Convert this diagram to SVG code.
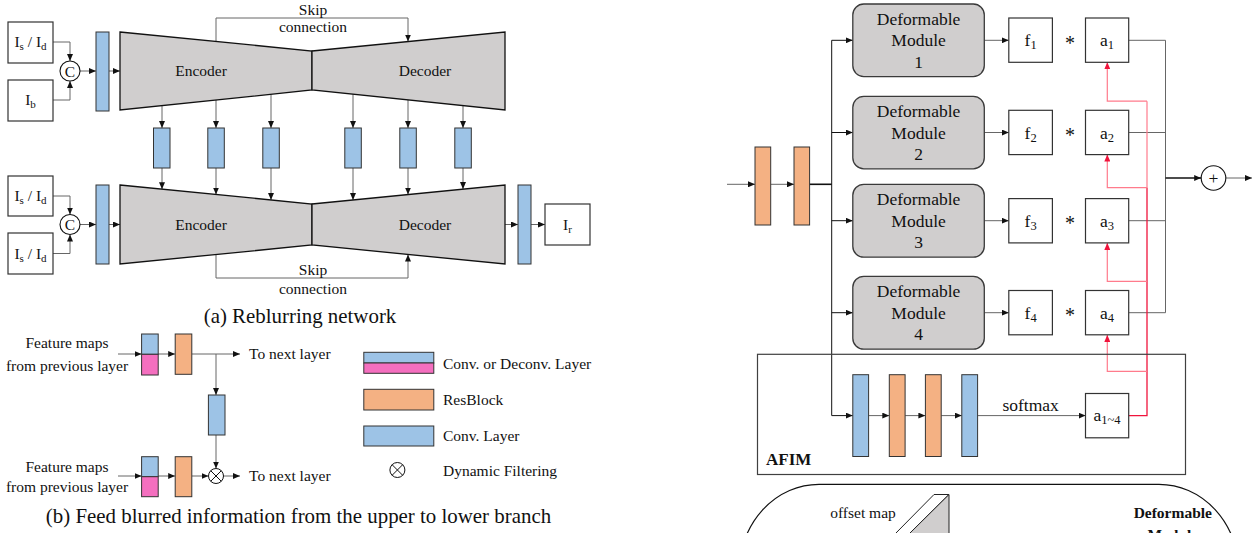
<svg xmlns="http://www.w3.org/2000/svg" width="1254" height="533" viewBox="0 0 1254 533">
<style>
text{font-family:"Liberation Serif","Times New Roman",serif;fill:#111}
.t{font-size:15.5px}
.tm{font-size:15.5px;text-anchor:middle}
.r{font-size:17.5px;text-anchor:middle}
.star{font-size:20px;text-anchor:middle}
.cap{font-size:20.9px;text-anchor:middle}
.sub{font-size:11px}
.subr{font-size:12.5px}
.box{fill:#fff;stroke:#333;stroke-width:1.2}
.blue{fill:#9dc3e6;stroke:#333;stroke-width:1}
.orange{fill:#f4b183;stroke:#333;stroke-width:1}
.pink{fill:#f46fbf;stroke:#333;stroke-width:1}
.trap{fill:#d0cece;stroke:#111;stroke-width:1.3}
.mod{fill:#d0cece;stroke:#3a3a3a;stroke-width:1.3}
.ln{fill:none;stroke:#666;stroke-width:1}
.lnk{fill:none;stroke:#111;stroke-width:1}
.thk{fill:none;stroke:#111;stroke-width:1.6}
.red{fill:none;stroke:#f0143c;stroke-width:1.3}
.lred{fill:none;stroke:#ff7b8c;stroke-width:1.2}
.arr{marker-end:url(#ah)}
.arrr{marker-end:url(#ahr)}
</style>
<defs>
<marker id="ah" markerUnits="userSpaceOnUse" markerWidth="7" markerHeight="6" refX="7" refY="3" orient="auto"><path d="M0,0 L7,3 L0,6 z" fill="#111"/></marker>
<marker id="ahr" markerUnits="userSpaceOnUse" markerWidth="7" markerHeight="6" refX="7" refY="3" orient="auto"><path d="M0,0 L7,3 L0,6 z" fill="#f0143c"/></marker>
</defs>
<rect width="1254" height="533" fill="#fff"/>

<!-- connectors -->
<g id="connectors">
  <path class="ln arr" d="M53,42 H70 V61"/>
  <path class="ln arr" d="M53,100 H70 V81"/>
  <path class="ln arr" d="M80,71 H96"/>
  <path class="ln arr" d="M109,71 H120"/>
  <path class="ln arr" d="M216,41.5 V18 H408 V41.5"/>
  <path class="ln arr" d="M162,105.6 V128"/>
  <path class="ln arr" d="M216,100 V128"/>
  <path class="ln arr" d="M271,94.3 V128"/>
  <path class="ln arr" d="M353,94.3 V128"/>
  <path class="ln arr" d="M408,100 V128"/>
  <path class="ln arr" d="M463,105.6 V128"/>
  <path class="ln arr" d="M162,168 V189.2"/>
  <path class="ln arr" d="M216,168 V194.5"/>
  <path class="ln arr" d="M271,168 V199.9"/>
  <path class="ln arr" d="M353,168 V200"/>
  <path class="ln arr" d="M408,168 V194.5"/>
  <path class="ln arr" d="M463,168 V189.1"/>
  <path class="ln arr" d="M53,196 H70 V214.5"/>
  <path class="ln arr" d="M53,253.5 H70 V234.5"/>
  <path class="ln arr" d="M80,224.5 H96"/>
  <path class="ln arr" d="M109,224.5 H120"/>
  <path class="ln arr" d="M216,254.5 V278 H408 V254.5"/>
  <path class="ln arr" d="M505,224.5 H518"/>
  <path class="ln arr" d="M531,224.5 H545"/>
  <path class="ln arr" d="M118,354 H141.6"/>
  <path class="ln arr" d="M158.2,354 H175.2"/>
  <path class="ln arr" d="M191.8,354 H240"/>
  <path class="ln arr" d="M216,354 V395"/>
  <path class="ln arr" d="M216,435 V468.5"/>
  <path class="ln arr" d="M118,476 H141.6"/>
  <path class="ln arr" d="M158.2,476 H175.2"/>
  <path class="ln arr" d="M191.8,476 H208.5"/>
  <path class="ln arr" d="M223.5,476 H240"/>
  <path class="ln arr" d="M727,184.3 H755"/>
  <path class="ln arr" d="M770.7,184.3 H794"/>
  <path class="thk" d="M809.6,184.3 H831.7"/>
  <path class="lnk" d="M831.7,40.3 V415.6"/>
  <path class="lnk arr" d="M831.7,40.3 H852.8"/>
  <path class="lnk arr" d="M831.7,132.5 H852.8"/>
  <path class="lnk arr" d="M831.7,220.7 H852.8"/>
  <path class="lnk arr" d="M831.7,312.7 H852.8"/>
  <path class="lnk arr" d="M831.7,415.6 H852.8"/>
  <path class="ln arr" d="M984.3,40.3 H1008.8"/>
  <path class="ln arr" d="M984.3,132.5 H1008.8"/>
  <path class="ln arr" d="M984.3,220.7 H1008.8"/>
  <path class="ln arr" d="M984.3,312.7 H1008.8"/>
  <path class="ln" d="M1128.7,40.3 H1165.5 V312.7 H1128.7"/>
  <path class="ln" d="M1128.7,132.5 H1165.5"/>
  <path class="ln" d="M1128.7,220.7 H1165.5"/>
  <path class="thk arr" d="M1165.5,178 H1201.2"/>
  <path class="ln arr" d="M1225.8,178 H1252"/>
  <path class="ln arr" d="M868.6,415.6 H889.3"/>
  <path class="ln arr" d="M905.1,415.6 H925.4"/>
  <path class="ln arr" d="M941.2,415.6 H961.8"/>
  <path class="ln arr" d="M977.6,415.6 H1085.5"/>
  <path class="red" d="M1128.7,415.6 H1147 V187.7"/>
  <path class="lred" d="M1147,188 V101.2"/>
  <path class="lred arrr" d="M1147,101.2 H1107.3 V62.3"/>
  <path class="lred arrr" d="M1147,187.7 H1107.3 V154.5"/>
  <path class="lred arrr" d="M1147,281.4 H1107.3 V242.9"/>
  <path class="lred arrr" d="M1147,371.3 H1107.3 V334.9"/>
</g>

<!-- panel (a) nodes -->
<g id="in-top-1"><rect class="box" x="8" y="22" width="45" height="41"/><text class="tm" x="30.5" y="47">I<tspan class="sub" dy="3">s</tspan><tspan dy="-3"> / I</tspan><tspan class="sub" dy="3">d</tspan></text></g>
<g id="in-top-2"><rect class="box" x="8" y="80" width="45" height="41"/><text class="tm" x="30.5" y="105">I<tspan class="sub" dy="3">b</tspan></text></g>
<g id="concat-top"><circle cx="70" cy="71" r="10" fill="#fff" stroke="#111" stroke-width="1.1"/><text class="tm" x="70" y="76.5">C</text></g>
<g id="conv-top"><rect class="blue" x="96" y="32" width="13" height="79"/></g>
<g id="encoder-top"><polygon class="trap" points="120,32 312,51 312,90 120,110"/><text class="tm" x="201" y="76">Encoder</text></g>
<g id="decoder-top"><polygon class="trap" points="312,51 505,32 505,110 312,90"/><text class="tm" x="425" y="76">Decoder</text></g>
<g id="skip-top-label"><text class="tm" x="313" y="14.5">Skip</text><text class="tm" x="313" y="32">connection</text></g>
<g id="mid-bars">
  <rect class="blue" x="153.5" y="128" width="16.5" height="40"/>
  <rect class="blue" x="207.8" y="128" width="16.5" height="40"/>
  <rect class="blue" x="262.8" y="128" width="16.5" height="40"/>
  <rect class="blue" x="344.8" y="128" width="16.5" height="40"/>
  <rect class="blue" x="399.8" y="128" width="16.5" height="40"/>
  <rect class="blue" x="454.8" y="128" width="16.5" height="40"/>
</g>
<g id="in-bot-1"><rect class="box" x="8" y="176" width="45" height="40"/><text class="tm" x="30.5" y="201">I<tspan class="sub" dy="3">s</tspan><tspan dy="-3"> / I</tspan><tspan class="sub" dy="3">d</tspan></text></g>
<g id="in-bot-2"><rect class="box" x="8" y="233" width="45" height="41"/><text class="tm" x="30.5" y="258.5">I<tspan class="sub" dy="3">s</tspan><tspan dy="-3"> / I</tspan><tspan class="sub" dy="3">d</tspan></text></g>
<g id="concat-bot"><circle cx="70" cy="224.5" r="10" fill="#fff" stroke="#111" stroke-width="1.1"/><text class="tm" x="70" y="230">C</text></g>
<g id="conv-bot"><rect class="blue" x="96" y="185" width="13" height="79"/></g>
<g id="encoder-bot"><polygon class="trap" points="120,185 312,204 312,245 120,264"/><text class="tm" x="201" y="229.5">Encoder</text></g>
<g id="decoder-bot"><polygon class="trap" points="312,204 505,185 505,264 312,245"/><text class="tm" x="425" y="229.5">Decoder</text></g>
<g id="skip-bot-label"><text class="tm" x="313" y="275">Skip</text><text class="tm" x="313" y="294">connection</text></g>
<g id="conv-out"><rect class="blue" x="518" y="185" width="13" height="79"/></g>
<g id="out-ir"><rect class="box" x="545" y="204" width="45" height="41"/><text class="tm" x="567.5" y="229.5">I<tspan class="sub" dy="3">r</tspan></text></g>
<g id="caption-a"><text class="cap" x="300" y="323">(a) Reblurring network</text></g>

<!-- panel (b) nodes -->
<g id="b-in-top"><text class="tm" x="67" y="348">Feature maps</text><text class="tm" x="67" y="371">from previous layer</text></g>
<g id="b-conv-top"><rect class="blue" x="141.6" y="334" width="16.6" height="20.3"/><rect class="pink" x="141.6" y="354.3" width="16.6" height="20.7"/></g>
<g id="b-res-top"><rect class="orange" x="175.2" y="334" width="16.6" height="40.3"/></g>
<g id="b-out-top"><text class="t" x="249" y="359">To next layer</text></g>
<g id="b-conv-mid"><rect class="blue" x="208.4" y="395" width="16.6" height="40"/></g>
<g id="b-in-bot"><text class="tm" x="67" y="472">Feature maps</text><text class="tm" x="67" y="492">from previous layer</text></g>
<g id="b-conv-bot"><rect class="blue" x="141.6" y="456.7" width="16.6" height="20"/><rect class="pink" x="141.6" y="476.7" width="16.6" height="20"/></g>
<g id="b-res-bot"><rect class="orange" x="175.2" y="456.7" width="16.6" height="40"/></g>
<g id="b-filter"><circle cx="216" cy="476" r="7.5" fill="#fff" stroke="#111" stroke-width="1"/><path d="M210.7,470.7 L221.3,481.3 M221.3,470.7 L210.7,481.3" stroke="#111" stroke-width="1"/></g>
<g id="b-out-bot"><text class="t" x="249" y="481">To next layer</text></g>
<g id="legend">
  <rect class="blue" x="363.8" y="352.3" width="70" height="10.7"/><rect class="pink" x="363.8" y="363" width="70" height="10.3"/>
  <text class="t" x="443" y="368.5">Conv. or Deconv. Layer</text>
  <rect class="orange" x="363.8" y="389.3" width="70" height="20.7"/>
  <text class="t" x="443" y="404.5">ResBlock</text>
  <rect class="blue" x="363.8" y="426" width="70" height="20"/>
  <text class="t" x="443" y="441">Conv. Layer</text>
  <circle cx="397.4" cy="470" r="7.5" fill="#fff" stroke="#111" stroke-width="1"/><path d="M392.1,464.7 L402.7,475.3 M402.7,464.7 L392.1,475.3" stroke="#111" stroke-width="1"/>
  <text class="t" x="443" y="476">Dynamic Filtering</text>
</g>
<g id="caption-b"><text class="cap" x="298.5" y="523">(b) Feed blurred information from the upper to lower branch</text></g>

<!-- right panel nodes -->
<g id="res-in-1"><rect class="orange" x="755" y="147" width="15.7" height="78"/></g>
<g id="res-in-2"><rect class="orange" x="794" y="147" width="15.6" height="78"/></g>
<g id="dm1"><rect class="mod" x="852.8" y="4" width="131.5" height="72.6" rx="11"/><text class="r" x="918.6" y="24.7">Deformable</text><text class="r" x="918.6" y="46.3">Module</text><text class="r" x="918.6" y="68">1</text></g>
<g id="dm2"><rect class="mod" x="852.8" y="96.4" width="131.5" height="72.4" rx="11"/><text class="r" x="918.6" y="116.9">Deformable</text><text class="r" x="918.6" y="138.5">Module</text><text class="r" x="918.6" y="160.2">2</text></g>
<g id="dm3"><rect class="mod" x="852.8" y="184.3" width="131.5" height="72.9" rx="11"/><text class="r" x="918.6" y="205.1">Deformable</text><text class="r" x="918.6" y="226.7">Module</text><text class="r" x="918.6" y="248.4">3</text></g>
<g id="dm4"><rect class="mod" x="852.8" y="276.3" width="131.5" height="72.9" rx="11"/><text class="r" x="918.6" y="297.1">Deformable</text><text class="r" x="918.6" y="318.7">Module</text><text class="r" x="918.6" y="340.4">4</text></g>
<g id="f1"><rect class="box" x="1008.8" y="18" width="43.6" height="44.3"/><text class="r" x="1030.6" y="46.3">f<tspan class="subr" dy="3">1</tspan></text></g>
<g id="f2"><rect class="box" x="1008.8" y="110.3" width="43.6" height="44.3"/><text class="r" x="1030.6" y="138.5">f<tspan class="subr" dy="3">2</tspan></text></g>
<g id="f3"><rect class="box" x="1008.8" y="198.6" width="43.6" height="44.3"/><text class="r" x="1030.6" y="226.7">f<tspan class="subr" dy="3">3</tspan></text></g>
<g id="f4"><rect class="box" x="1008.8" y="290.5" width="43.6" height="44.3"/><text class="r" x="1030.6" y="318.7">f<tspan class="subr" dy="3">4</tspan></text></g>
<g id="stars"><text class="star" x="1070" y="50">*</text><text class="star" x="1070" y="142.2">*</text><text class="star" x="1070" y="230.4">*</text><text class="star" x="1070" y="322.4">*</text></g>
<g id="a1"><rect class="box" x="1085.5" y="18" width="43.2" height="44.3"/><text class="r" x="1107.1" y="46.3">a<tspan class="subr" dy="3">1</tspan></text></g>
<g id="a2"><rect class="box" x="1085.5" y="110.3" width="43.2" height="44.3"/><text class="r" x="1107.1" y="138.5">a<tspan class="subr" dy="3">2</tspan></text></g>
<g id="a3"><rect class="box" x="1085.5" y="198.6" width="43.2" height="44.3"/><text class="r" x="1107.1" y="226.7">a<tspan class="subr" dy="3">3</tspan></text></g>
<g id="a4"><rect class="box" x="1085.5" y="290.5" width="43.2" height="44.3"/><text class="r" x="1107.1" y="318.7">a<tspan class="subr" dy="3">4</tspan></text></g>
<g id="sum"><circle cx="1213.5" cy="178" r="12.3" fill="#fff" stroke="#111" stroke-width="1.1"/><text class="r" x="1213.5" y="184">+</text></g>
<g id="afim">
  <rect x="757.5" y="354.3" width="428" height="120.2" fill="none" stroke="#404040" stroke-width="1.2"/>
  <text x="766" y="465.3" style="font-size:17px;font-weight:bold">AFIM</text>
  <rect class="blue" x="852.8" y="374.7" width="15.8" height="81.8"/>
  <rect class="orange" x="889.3" y="374.7" width="15.8" height="81.8"/>
  <rect class="orange" x="925.4" y="374.7" width="15.8" height="81.8"/>
  <rect class="blue" x="961.8" y="374.7" width="15.8" height="81.8"/>
  <text class="r" x="1030.6" y="410.8">softmax</text>
</g>
<g id="a14"><rect class="box" x="1085.5" y="393.5" width="43.2" height="44.3"/><text class="r" x="1107.1" y="421">a<tspan class="subr" dy="3">1~4</tspan></text></g>
<g id="dm-detail">
  <rect x="739" y="484.3" width="500" height="200" rx="80" ry="88" fill="none" stroke="#111" stroke-width="1.2"/>
  <polygon points="934,494.5 949,494.5 909,534 895,534" fill="#fff" stroke="#222" stroke-width="1"/>
  <polygon points="949,494.5 949,534 909,534" fill="#d0cece" stroke="#222" stroke-width="1"/>
  <text class="tm" x="863" y="518">offset map</text>
  <text class="tm" x="1172.8" y="518" style="font-weight:bold">Deformable</text>
  <text class="tm" x="1172.8" y="540" style="font-weight:bold">Module</text>
</g>
</svg>
